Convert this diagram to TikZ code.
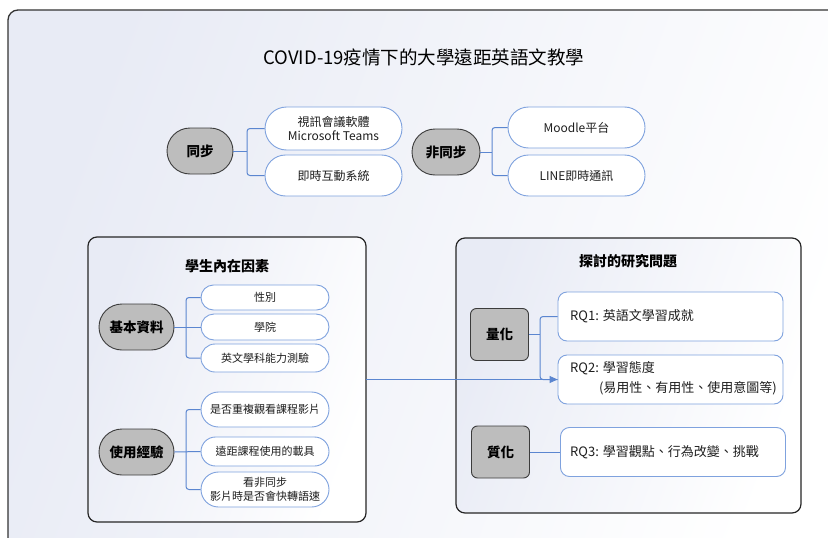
\documentclass[tikz,border=0pt]{standalone}
\usepackage{fontspec}
\setmainfont{Noto Sans CJK TC}
\usetikzlibrary{shapes.misc,arrows.meta,calc}
\definecolor{bl}{HTML}{5B86D0}
\definecolor{bbord}{HTML}{7FA2DE}
\definecolor{gfill}{HTML}{BDBDBD}
\definecolor{gbord}{HTML}{3C3C3C}
\definecolor{txt}{HTML}{1E1E1E}
\definecolor{bgL}{HTML}{E8EBF5}
\tikzset{
  leaf/.style={draw=bbord,line width=0.9pt,fill=white,rounded rectangle,minimum width=128,minimum height=#1,inner sep=0pt,text=txt,font=\fontsize{11}{13}\selectfont,align=center},
  leafw/.style={draw=bbord,line width=0.9pt,fill=white,rounded rectangle,minimum width=137,minimum height=#1,inner sep=0pt,text=txt,font=\fontsize{12}{14}\selectfont,align=center},
  hub/.style={draw=gbord,line width=0.9pt,fill=gfill,rounded rectangle,minimum width=#1,minimum height=46,inner sep=0pt,text=black,font=\fontsize{13.5}{15}\selectfont\bfseries},
  qbox/.style={draw=gbord,line width=0.9pt,fill=gfill,rounded corners=6pt,minimum width=58,minimum height=52,inner sep=0pt,text=black,font=\fontsize{13.5}{15}\selectfont\bfseries},
  rq/.style={draw=bbord,line width=0.9pt,fill=white,rounded corners=9pt,minimum width=225,minimum height=49,inner sep=0pt},
  rqt/.style={text=txt,font=\fontsize{13}{15}\selectfont,inner sep=0pt},
  conn/.style={draw=bl,line width=1pt,rounded corners=3pt},
  panel/.style={draw=black!85,line width=1.2pt,rounded corners=9pt,left color=bgL,right color=white,shading angle=70},
  ttl/.style={text=black,font=\fontsize{14}{16}\selectfont\bfseries}
}
\begin{document}
\begin{tikzpicture}[x=1pt,y=-1pt]
\useasboundingbox (0,0) rectangle (828,538);
\clip (0,0) rectangle (828,538);
% outer frame
\path[draw=black!80,line width=1.3pt,rounded corners=10pt,left color=bgL,right color=white,shading angle=70] (8,10) rectangle (850,560);
\node[text=black,font=\fontsize{18.5}{22}\selectfont] (title) at (424,58) {COVID-19疫情下的大學遠距英語文教學};

% top: synchronous
\node[hub=66] (sync) at (200,151) {同步};
\node[leafw=43] (s1) at (333.5,128.5) {視訊會議軟體\\Microsoft Teams};
\node[leafw=41] (s2) at (333.5,175.5) {即時互動系統};
\coordinate (sb) at (247,151);
\draw[conn] (sync.east) -- (sb);
\draw[conn] (s1.west) -| (sb) |- (s2.west);

\node[hub=68] (async) at (446,152) {非同步};
\node[leafw=41] (a1) at (576.5,127.5) {Moodle平台};
\node[leafw=41] (a2) at (576.5,175.5) {LINE即時通訊};
\coordinate (ab) at (492,152);
\draw[conn] (async.east) -- (ab);
\draw[conn] (a1.west) -| (ab) |- (a2.west);

% left panel
\path[panel] (88,237) rectangle (366,522);
\node (lp) at (227,379.5) [minimum width=278,minimum height=285,inner sep=0pt] {};
\node[ttl] (lt) at (227,266) {學生內在因素};
\node[hub=75] (basic) at (136.5,327) {基本資料};
\node[leaf=25] (b1) at (265,297.5) {性別};
\node[leaf=26] (b2) at (265,327) {學院};
\node[leaf=28] (b3) at (265,358) {英文學科能力測驗};
\coordinate (bb) at (186,327);
\draw[conn] (basic.east) -- (b2.west);
\draw[conn] (b1.west) -| (bb) |- (b3.west);

\node[hub=75] (use) at (136.5,452) {使用經驗};
\node[leaf=35] (u1) at (265,409.5) {是否重複觀看課程影片};
\node[leaf=29] (u2) at (265,451.5) {遠距課程使用的載具};
\node[leaf=35,font=\fontsize{11}{14}\selectfont] (u3) at (265,489.5) {看非同步\\影片時是否會快轉語速};
\coordinate (ub) at (186,452);
\draw[conn] (use.east) -- (u2.west);
\draw[conn] (u1.west) -| (ub) |- (u3.west);

% right panel
\path[panel] (456,238) rectangle (801,513);
\node[ttl] (rt) at (628,261) {探討的研究問題};
\node[qbox] (quant) at (499.5,334.5) {量化};
\node[rq] (rq1) at (670.5,316.5) {};
\node[rqt,anchor=west] (rq1t) at (570,316.5) {RQ1: 英語文學習成就};
\node[rq] (rq2) at (670.5,379.5) {};
\node[rqt,anchor=west] (rq2t) at (570,368.5) {RQ2: 學習態度};
\node[rqt,anchor=east] (rq2u) at (777,388.5) {(易用性、有用性、使用意圖等)};
\coordinate (qb) at (540,334.5);
\draw[conn] (quant.east) -- (qb);
\draw[conn] (rq1.west) -| (qb) |- (rq2.west);

\node[qbox] (qual) at (500.5,452) {質化};
\node[rq] (rq3) at (673,452) {};
\node[rqt,anchor=west] (rq3t) at (570,452) {RQ3: 學習觀點、行為改變、挑戰};
\draw[conn] (qual.east) -- (rq3.west);

% arrow
\draw[draw=bl,line width=1pt,-{Triangle[length=8pt,width=7pt]}] (lp.east |- rq2.west) -- (rq2.west);
\end{tikzpicture}
\end{document}
